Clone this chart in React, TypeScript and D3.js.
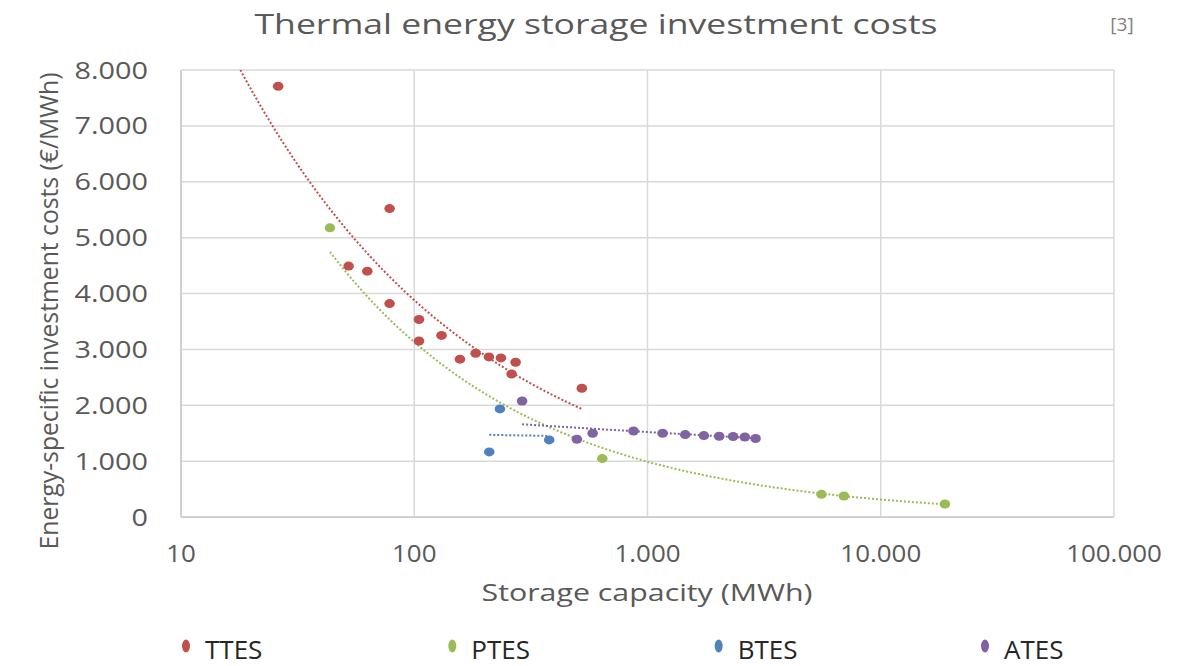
import * as d3 from "d3";

const WIDTH = 1201;
const HEIGHT = 666;
const MARGIN = { top: 70, right: 87, bottom: 149, left: 181 };

// series (x = MWh, y = €/MWh)
const TTES_X = [26.1, 78.4, 52.3, 62.9, 78.4, 104.8, 104.8, 130.9, 157, 183.3, 209, 235.3, 272, 261.5, 523];
const TTES_Y = [7710, 5520, 4490, 4400, 3820, 3535, 3150, 3250, 2825, 2930, 2865, 2847, 2770, 2560, 2305];
const PTES_X = [43.5, 640, 5570, 6950, 18840];
const PTES_Y = [5175, 1045, 406, 376, 233];
const BTES_X = [233, 379, 209.7];
const BTES_Y = [1935, 1380, 1165];
const ATES_X = [290, 498, 582, 871, 1161, 1451, 1745, 2029, 2328, 2615, 2906];
const ATES_Y = [2077, 1391, 1499, 1540, 1499, 1475, 1457, 1445, 1440, 1432, 1404];

const SERIES_NAMES = ["TTES", "PTES", "BTES", "ATES"];
const SERIES_COLORS = ["#C0504D", "#9BBB59", "#4F81BD", "#8064A2"];

// power trendlines y = a * x^b, as they appear in the picture
const TREND_A = [27040, 31300, 1663, 2480];
const TREND_B = [-0.4215, -0.5, -0.023, -0.0708];
const TREND_FROM = [17, 43.5, 209.7, 290];
const TREND_TO = [523, 18840, 379, 2906];

const X_TICKS = [10, 100, 1000, 10000, 100000];
const Y_TICKS = [0, 1000, 2000, 3000, 4000, 5000, 6000, 7000, 8000];

// german style thousands separator
const fmt = (v: number) => (v === 0 ? "0" : d3.format(",")(v).replace(/,/g, "."));

export default function App() {
  const boundsWidth = WIDTH - MARGIN.left - MARGIN.right;
  const boundsHeight = HEIGHT - MARGIN.top - MARGIN.bottom;

  const xScale = d3.scaleLog().domain([10, 100000]).range([0, boundsWidth]);
  const yScale = d3.scaleLinear().domain([0, 8000]).range([boundsHeight, 0]);

  const series = [
    { xs: TTES_X, ys: TTES_Y },
    { xs: PTES_X, ys: PTES_Y },
    { xs: BTES_X, ys: BTES_Y },
    { xs: ATES_X, ys: ATES_Y },
  ];

  const trendPath = (k: number) => {
    const lo = Math.log10(TREND_FROM[k]);
    const hi = Math.log10(TREND_TO[k]);
    const xs = d3.range(0, 101).map((i) => Math.pow(10, lo + ((hi - lo) * i) / 100));
    return d3
      .line<number>()
      .x((d) => xScale(d))
      .y((d) => yScale(TREND_A[k] * Math.pow(d, TREND_B[k])))(xs);
  };

  // legend slots spread across the bottom
  const legendScale = d3.scalePoint<string>().domain(SERIES_NAMES).range([186, 985]);

  return (
    <svg
      width={WIDTH}
      height={HEIGHT}
      style={{ position: "absolute", left: 0, top: 0, background: "#fff" }}
      fontFamily="'Open Sans', sans-serif"
    >
      <defs>
        <clipPath id="plotClip">
          <rect x={0} y={0} width={boundsWidth} height={boundsHeight} />
        </clipPath>
      </defs>

      <text x={596} y={34} textAnchor="middle" fontSize={27} fill="#595959" textLength={683} lengthAdjust="spacingAndGlyphs">
        Thermal energy storage investment costs
      </text>
      <text x={1122} y={31} textAnchor="middle" fontSize={19} fill="#7f7f7f">
        [3]
      </text>

      <g transform={`translate(${MARGIN.left},${MARGIN.top})`}>
        {/* grid */}
        {Y_TICKS.map((t) => (
          <line key={"gy" + t} x1={0} x2={boundsWidth} y1={yScale(t)} y2={yScale(t)} stroke="#d9d9d9" strokeWidth={1.5} />
        ))}
        {X_TICKS.map((t) => (
          <line key={"gx" + t} x1={xScale(t)} x2={xScale(t)} y1={0} y2={boundsHeight} stroke="#d9d9d9" strokeWidth={1.5} />
        ))}
        <line x1={0} x2={0} y1={0} y2={boundsHeight} stroke="#d0d0d0" strokeWidth={2} />
        <line x1={0} x2={boundsWidth} y1={boundsHeight} y2={boundsHeight} stroke="#d0d0d0" strokeWidth={2} />

        {/* y tick labels */}
        {Y_TICKS.map((t) => (
          <text
            key={"ty" + t}
            transform={`translate(-33,${yScale(t) + 8.5}) scale(1.2,1)`}
            textAnchor="end"
            fontSize={24}
            fill="#595959"
          >
            {fmt(t)}
          </text>
        ))}
        {/* x tick labels */}
        {X_TICKS.map((t) => (
          <text
            key={"tx" + t}
            transform={`translate(${xScale(t)},${boundsHeight + 45}) scale(1.08,1)`}
            textAnchor="middle"
            fontSize={24}
            fill="#595959"
          >
            {fmt(t)}
          </text>
        ))}

        {/* trendlines */}
        <g clipPath="url(#plotClip)">
          {SERIES_NAMES.map((n, k) => (
            <path
              key={"tr" + n}
              d={trendPath(k) || ""}
              fill="none"
              stroke={SERIES_COLORS[k]}
              strokeWidth={2}
              strokeDasharray="2 2"
            />
          ))}
        </g>

        {/* points */}
        {series.map((s, k) =>
          s.xs.map((x, i) => (
            <ellipse
              key={SERIES_NAMES[k] + i}
              cx={xScale(x)}
              cy={yScale(s.ys[i])}
              rx={5.3}
              ry={4.5}
              fill={SERIES_COLORS[k]}
            />
          ))
        )}
      </g>

      <text x={647} y={601} textAnchor="middle" fontSize={24} fill="#595959" textLength={331} lengthAdjust="spacingAndGlyphs">
        Storage capacity (MWh)
      </text>
      <text
        transform="translate(58,311) rotate(-90)"
        textAnchor="middle"
        fontSize={25}
        fill="#595959"
        textLength={477}
        lengthAdjust="spacingAndGlyphs"
      >
        Energy-specific investment costs (€/MWh)
      </text>

      {/* legend */}
      {SERIES_NAMES.map((n, k) => (
        <g key={"lg" + n}>
          <ellipse cx={legendScale(n)!} cy={646} rx={4} ry={6.5} fill={SERIES_COLORS[k]} />
          <text x={legendScale(n)! + 19} y={659} fontSize={26} fill="#262626">
            {n}
          </text>
        </g>
      ))}
    </svg>
  );
}
